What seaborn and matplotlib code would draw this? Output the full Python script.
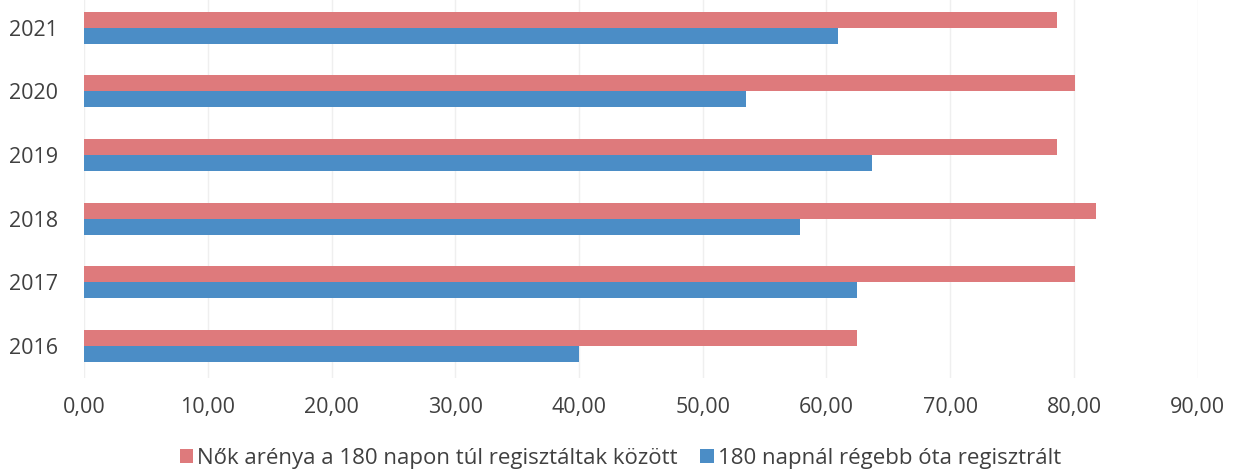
import matplotlib
matplotlib.use("Agg")
import matplotlib.pyplot as plt
import seaborn as sns
import pandas as pd
from matplotlib.ticker import FuncFormatter

years = ["2021", "2020", "2019", "2018", "2017", "2016"]
nok_arany = [78.6, 80.1, 78.6, 81.8, 80.1, 62.5]
regebb_180 = [60.9, 53.5, 63.7, 57.9, 62.5, 40.0]
series_names = ["Nők arénya a 180 napon túl regisztáltak között",
                "180 napnál régebb óta regisztrált"]
x_ticks = [0, 10, 20, 30, 40, 50, 60, 70, 80, 90]

df = pd.DataFrame({
    "ev": years * 2,
    "ertek": nok_arany + regebb_180,
    "sorozat": [series_names[0]] * len(years) + [series_names[1]] * len(years),
})

sns.set_style("white")
plt.rcParams['font.family'] = ['Open Sans', 'DejaVu Sans']
text_col = "#404040"

fig = plt.figure(figsize=(12.36, 4.70), dpi=100)
ax = fig.add_axes([0.068, 0.196, 0.901, 0.813])

sns.barplot(data=df, x="ertek", y="ev", hue="sorozat", order=years,
            hue_order=series_names, palette=["#DE7A7C", "#4B8DC6"],
            width=0.5, saturation=1, linewidth=0, ax=ax, legend=True)

ax.set_xlim(0, 90)
ax.set_ylim(5.5, -0.5)
ax.set_xticks(x_ticks)
ax.xaxis.set_major_formatter(FuncFormatter(lambda v, p: f"{v:.2f}".replace(".", ",")))
ax.grid(axis="x", color="#EFEFEF", linewidth=1)
ax.set_axisbelow(True)
for s in ax.spines.values():
    s.set_visible(False)
ax.tick_params(axis="x", length=0, pad=14, labelsize=15.5, labelcolor=text_col)
ax.tick_params(axis="y", length=0, pad=19, labelsize=15.5, labelcolor=text_col)
ax.set_xlabel("")
ax.set_ylabel("")

handles, labels = ax.get_legend_handles_labels()
ax.get_legend().remove()
fig.legend(handles, labels, loc="center", bbox_to_anchor=(0.502, 0.024), ncol=2,
           frameon=False, fontsize=16, labelcolor=text_col, borderpad=0.1,
           handlelength=0.6, handleheight=0.6, handletextpad=0.2, columnspacing=1.0)

fig.savefig("out.png", dpi=100)
